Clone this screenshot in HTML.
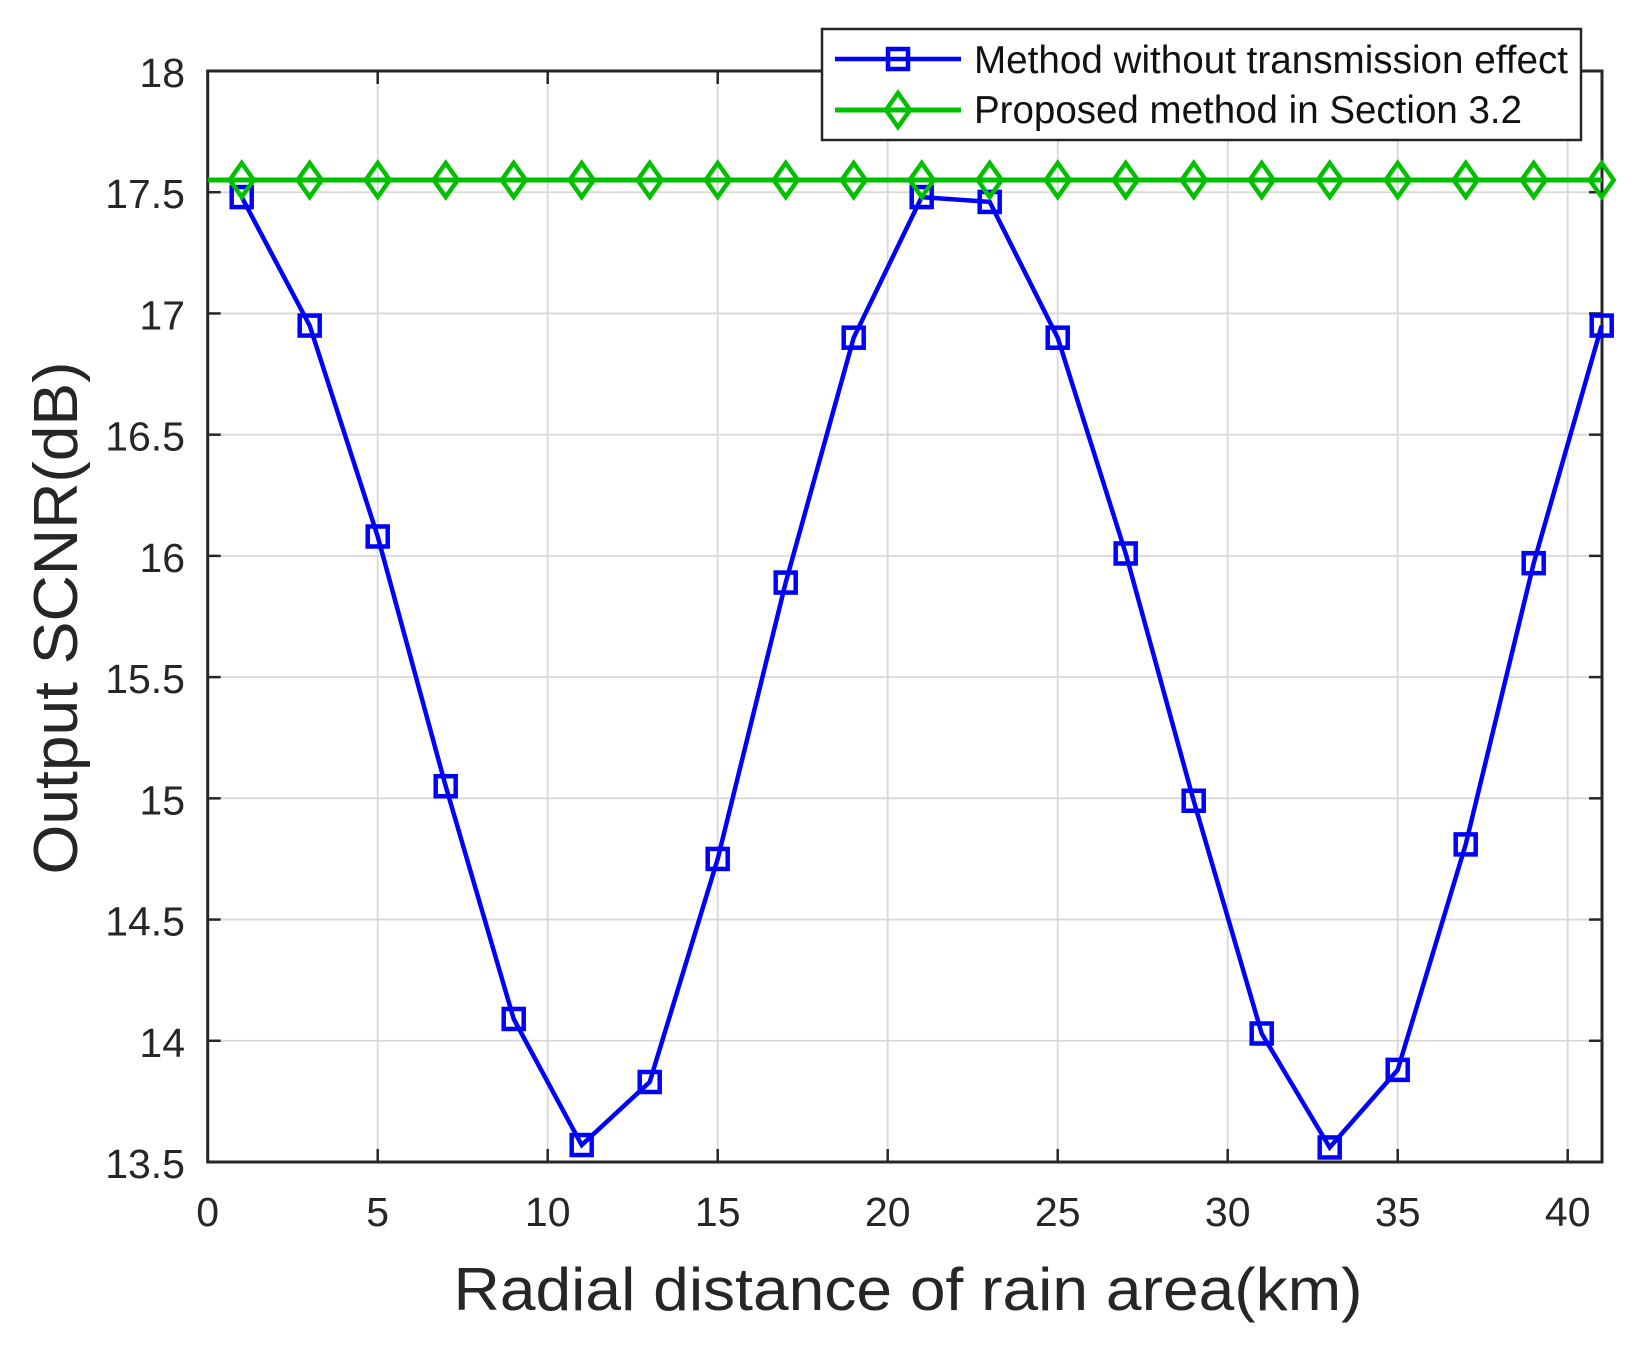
<!DOCTYPE html>
<html><head><meta charset="utf-8"><style>html,body{margin:0;padding:0;background:#fff}svg{display:block}</style></head>
<body>
<svg width="1638" height="1345" viewBox="0 0 1638 1345" xmlns="http://www.w3.org/2000/svg" font-family="'Liberation Sans', sans-serif">
<rect width="1638" height="1345" fill="#fff"/>
<g id="grid" stroke="#d8d8d8" stroke-width="1.8"></g>
<g id="ticks" stroke="#262626" stroke-width="2.5"></g>
<rect x="207.7" y="71" width="1394.3" height="1091" fill="none" stroke="#262626" stroke-width="3"/>
<g id="labels" fill="#262626" font-size="41"></g>
<polyline id="blue" fill="none" stroke="#0000ff" stroke-width="4.5"/>
<g id="bm" fill="none" stroke="#0000ff" stroke-width="4.5"></g>
<line x1="207.7" x2="1602" y1="180" y2="180" stroke="#00c000" stroke-width="5"/>
<g id="gm" fill="none" stroke="#00c000" stroke-width="4.5"></g>
<text x="908" y="1310" font-size="60" fill="#262626" text-anchor="middle" textLength="909" lengthAdjust="spacingAndGlyphs">Radial distance of rain area(km)</text>
<text transform="translate(77,618) rotate(-90)" font-size="62" fill="#262626" text-anchor="middle" textLength="513" lengthAdjust="spacingAndGlyphs">Output SCNR(dB)</text>
<rect x="822" y="29" width="759" height="111" fill="#fff" stroke="#262626" stroke-width="2.5"/>
<line x1="835" x2="961" y1="59" y2="59" stroke="#0000ff" stroke-width="4.5"/>
<rect x="888" y="49" width="20" height="20" fill="none" stroke="#0000ff" stroke-width="4.5"/>
<line x1="835" x2="961" y1="110" y2="110" stroke="#00c000" stroke-width="5"/>
<polygon points="898,93 910,110 898,127 886,110" fill="none" stroke="#00c000" stroke-width="4.5"/>
<text x="974" y="73" font-size="39" fill="#111" textLength="594" lengthAdjust="spacingAndGlyphs">Method without transmission effect</text>
<text x="974" y="123" font-size="39" fill="#111" textLength="548" lengthAdjust="spacingAndGlyphs">Proposed method in Section 3.2</text>
<script>
const L=207.7,U=34.0,T=71,B=1162,H=(B-T)/4.5;
const X=v=>L+v*U, Y=v=>B-(v-13.5)*H;
const ns="http://www.w3.org/2000/svg";
function el(p,n,a){const e=document.createElementNS(ns,n);for(const k in a)e.setAttribute(k,a[k]);p.appendChild(e);return e;}
const g=document.getElementById('grid'),t=document.getElementById('ticks'),lb=document.getElementById('labels');
for(let x=0;x<=40;x+=5){const px=X(x);
 if(x>0)el(g,'line',{x1:px,x2:px,y1:T,y2:B});
 el(t,'line',{x1:px,x2:px,y1:B,y2:B-13});el(t,'line',{x1:px,x2:px,y1:T,y2:T+13});
 const s=el(lb,'text',{x:px,y:1226,'text-anchor':'middle'});s.textContent=x;}
for(let i=0;i<=9;i++){const v=13.5+i*0.5,py=Y(v);
 if(i>0&&i<9)el(g,'line',{x1:L,x2:1602,y1:py,y2:py});
 el(t,'line',{x1:L,x2:L+13,y1:py,y2:py});el(t,'line',{x1:1602-13,x2:1602,y1:py,y2:py});
 const s=el(lb,'text',{x:185,y:py+16,'text-anchor':'end'});s.textContent=(v%1===0)?v.toFixed(0):v.toFixed(1);}
const d=[17.48,16.95,16.08,15.05,14.09,13.57,13.83,14.75,15.89,16.90,17.48,17.46,16.90,16.01,14.99,14.03,13.56,13.88,14.81,15.97,16.95];
const pts=d.map((v,i)=>[X(1+2*i),Y(v)]);
document.getElementById('blue').setAttribute('points',pts.map(p=>p.join(',')).join(' '));
const bm=document.getElementById('bm'),gm=document.getElementById('gm');
pts.forEach(p=>el(bm,'rect',{x:p[0]-10,y:p[1]-10,width:20,height:20}));
for(let i=0;i<21;i++){const x=X(1+2*i),y=180;el(gm,'polygon',{points:`${x},${y-17} ${x+12},${y} ${x},${y+17} ${x-12},${y}`});}
</script>
</svg>
</body></html>
